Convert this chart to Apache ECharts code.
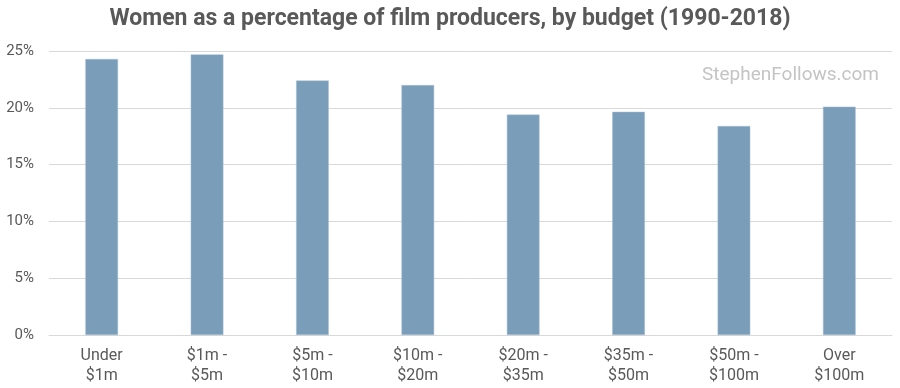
<!DOCTYPE html>
<html>
<head>
<meta charset="utf-8">
<script src="https://cdn.jsdelivr.net/npm/echarts@6/dist/echarts.min.js"></script>
<style>html,body{margin:0;padding:0;background:#fff}#c{width:900px;height:388px}</style>
</head>
<body>
<div id="c"></div>
<script>
var categories = ["Under\n$1m", "$1m -\n$5m", "$5m -\n$10m", "$10m -\n$20m", "$20m -\n$35m", "$35m -\n$50m", "$50m -\n$100m", "Over\n$100m"];
var values = [24.3, 24.7, 22.4, 22.0, 19.4, 19.65, 18.4, 20.1];
var yTicks = [0, 5, 10, 15, 20, 25];
var titleText = "Women as a percentage of film producers, by budget (1990-2018)";
var watermark = "StephenFollows.com";

var chart = echarts.init(document.getElementById('c'), null, {renderer: 'canvas'});
chart.setOption({
  animation: false,
  backgroundColor: '#ffffff',
  title: {
    text: titleText,
    left: 'center',
    top: 3,
    textStyle: {fontFamily: 'Roboto', fontWeight: 'bold', fontSize: 23, color: '#595959'}
  },
  graphic: [{
    type: 'text',
    right: 21,
    top: 66,
    style: {text: watermark, fontFamily: 'Roboto', fontSize: 19, fill: '#c4c4c4'}
  }],
  grid: {left: 49, right: 8, top: 51, bottom: 53, containLabel: false},
  xAxis: {
    type: 'category',
    data: categories,
    axisLine: {show: true, lineStyle: {color: '#d9d9d9', width: 1}},
    axisTick: {show: false},
    axisLabel: {fontFamily: 'Roboto', fontSize: 16, color: '#595959', lineHeight: 20, margin: 11, interval: 0}
  },
  yAxis: {
    type: 'value',
    min: yTicks[0],
    max: yTicks[yTicks.length - 1],
    interval: 5,
    axisLine: {show: false},
    axisTick: {show: false},
    splitLine: {lineStyle: {color: '#d9d9d9', width: 1}},
    axisLabel: {fontFamily: 'Roboto', fontSize: 15, color: '#595959', margin: 15, formatter: '{value}%'}
  },
  series: [{
    type: 'bar',
    data: values,
    barWidth: '31%',
    itemStyle: {color: '#7a9dba', borderColor: '#a9c0d3', borderWidth: 0.5}
  }]
});
</script>
</body>
</html>
